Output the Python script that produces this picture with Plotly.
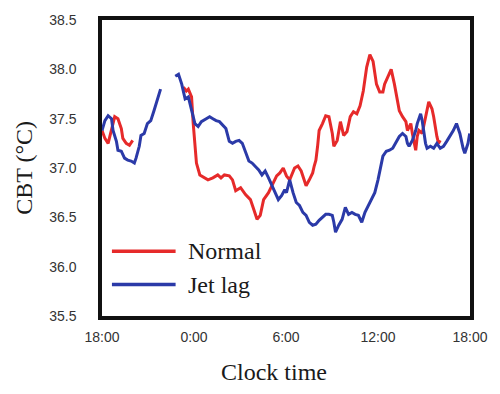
import plotly.graph_objects as go

# Hours elapsed since 18:00 on the first evening; None breaks the trace where recording stops.
normal_hours = [
    0.00, 0.19, 0.40, 0.62, 0.83, 1.04, 1.26, 1.36, 1.58, 1.79, 2.00, None,
    5.31, 5.50, 5.63, 5.84, 5.95, 6.06, 6.16, 6.38, 6.48, 6.91, 7.23, 7.55,
    7.76, 7.98, 8.30, 8.51, 8.72, 9.04, 9.36, 9.68, 9.90, 10.11, 10.32, 10.54,
    10.86, 11.07, 11.39, 11.60, 11.82, 12.03, 12.24, 12.56, 12.78, 12.99, 13.20,
    13.31, 13.52, 13.74, 13.84, 13.95, 14.06, 14.16, 14.38, 14.59, 14.80, 15.02,
    15.12, 15.34, 15.55, 15.76, 15.98, 16.19, 16.40, 16.62, 16.83, 17.04, 17.26,
    17.47, 17.68, 17.90, 18.11, 18.32, 18.43, 18.64, 18.86, 19.07, 19.28, 19.39,
    19.60, 19.82, 19.92, 20.14, 20.24, 20.46, 20.56, 20.67, 20.88, 21.10, 21.31,
    21.52, 21.63, 21.84, 21.95, 22.06,
]
normal_cbt = [
    37.38, 37.30, 37.25, 37.38, 37.52, 37.50, 37.40, 37.30, 37.25, 37.23, 37.28, None,
    37.82, 37.78, 37.80, 37.72, 37.45, 37.22, 37.05, 36.93, 36.92, 36.88, 36.90, 36.93,
    36.90, 36.93, 36.92, 36.88, 36.77, 36.80, 36.73, 36.68, 36.58, 36.48, 36.52, 36.68,
    36.75, 36.82, 36.92, 36.95, 37.00, 36.92, 36.88, 37.00, 37.02, 36.97, 36.87,
    36.82, 36.88, 36.95, 37.02, 37.08, 37.22, 37.38, 37.45, 37.53, 37.52, 37.35,
    37.22, 37.28, 37.47, 37.33, 37.37, 37.52, 37.57, 37.55, 37.63, 37.78, 38.02,
    38.15, 38.08, 37.85, 37.77, 37.77, 37.85, 37.92, 38.00, 37.85, 37.68, 37.58,
    37.52, 37.47, 37.38, 37.45, 37.35, 37.18, 37.32, 37.38, 37.35, 37.52, 37.67,
    37.60, 37.52, 37.32, 37.25, 37.28,
]

jetlag_hours = [
    0.00, 0.19, 0.40, 0.62, 0.72, 0.94, 1.04, 1.26, 1.47, 1.68, 1.90, 2.11, 2.22,
    2.43, 2.54, 2.75, 2.96, 3.18, 3.39, 3.60, 3.82, None,
    4.78, 4.99, 5.20, 5.42, 5.63, 5.84, 6.06, 6.27, 6.48, 6.80, 7.02, 7.23, 7.44,
    7.66, 7.87, 8.08, 8.30, 8.51, 8.72, 8.94, 9.15, 9.36, 9.58, 9.79, 10.00, 10.22,
    10.43, 10.64, 10.86, 11.07, 11.28, 11.50, 11.71, 11.92, 12.03, 12.24, 12.46,
    12.67, 12.88, 13.10, 13.31, 13.52, 13.74, 13.95, 14.16, 14.38, 14.59, 14.80,
    15.02, 15.12, 15.23, 15.44, 15.66, 15.87, 16.08, 16.30, 16.51, 16.72, 16.94,
    17.15, 17.36, 17.58, 17.79, 18.00, 18.22, 18.32, 18.54, 18.75, 18.96, 19.18,
    19.39, 19.60, 19.82, 19.92, 20.03, 20.24, 20.46, 20.56, 20.78, 20.88, 20.99,
    21.10, 21.20, 21.42, 21.63, 21.84, 22.06, 22.27, 22.48, 22.70, 22.91, 23.12,
    23.34, 23.55, 23.66, 23.87, 23.98,
]
jetlag_cbt = [
    37.38, 37.48, 37.53, 37.50, 37.38, 37.27, 37.18, 37.17, 37.10, 37.08, 37.07, 37.05, 37.10,
    37.22, 37.33, 37.35, 37.45, 37.48, 37.58, 37.68, 37.80, None,
    37.93, 37.95, 37.85, 37.70, 37.72, 37.58, 37.45, 37.42, 37.47, 37.50, 37.52, 37.50, 37.48,
    37.47, 37.43, 37.40, 37.27, 37.25, 37.27, 37.28, 37.25, 37.17, 37.07, 37.05, 37.02, 36.98,
    36.93, 36.97, 36.90, 36.83, 36.77, 36.68, 36.72, 36.78, 36.75, 36.88, 36.75,
    36.65, 36.62, 36.55, 36.52, 36.45, 36.42, 36.43, 36.47, 36.50, 36.53, 36.53,
    36.52, 36.45, 36.35, 36.42, 36.48, 36.60, 36.53, 36.55, 36.53, 36.52, 36.45,
    36.55, 36.62, 36.68, 36.75, 36.88, 37.05, 37.12, 37.17, 37.18, 37.20, 37.27,
    37.32, 37.35, 37.32, 37.25, 37.22, 37.28, 37.38, 37.45, 37.55, 37.48, 37.35,
    37.25, 37.20, 37.22, 37.20, 37.25, 37.20, 37.22, 37.27, 37.32, 37.38, 37.45,
    37.35, 37.20, 37.15, 37.25, 37.35,
]

x_tick_hours = [0, 6, 12, 18, 24]
x_tick_labels = ["18:00", "0:00", "6:00", "12:00", "18:00"]
y_ticks = [35.5, 36.0, 36.5, 37.0, 37.5, 38.0, 38.5]

RED = "#E62A2A"
BLUE = "#2B3AA8"
SERIF = "Liberation Serif, Times New Roman, serif"
SANS = "Liberation Sans, Arial, sans-serif"
TICK_FONT = dict(family=SANS, size=14, color="#333333")

fig = go.Figure()
fig.add_trace(go.Scatter(x=normal_hours, y=normal_cbt, mode="lines", name="Normal",
                         line=dict(color=RED, width=3), connectgaps=False))
fig.add_trace(go.Scatter(x=jetlag_hours, y=jetlag_cbt, mode="lines", name="Jet lag",
                         line=dict(color=BLUE, width=3), connectgaps=False))

# Hand-built legend in the lower-left corner of the plotting area
legend_rows = [("Normal", RED, 0.219), ("Jet lag", BLUE, 0.106)]
for label, color, ypos in legend_rows:
    fig.add_shape(type="line", xref="paper", yref="paper",
                  x0=0.027, x1=0.2, y0=ypos, y1=ypos,
                  line=dict(color=color, width=3.5))
    fig.add_annotation(text=label, xref="paper", yref="paper", x=0.229, y=ypos,
                       xanchor="left", yanchor="middle", showarrow=False,
                       font=dict(family=SERIF, size=24, color="#1a1a1a"))

# Axis titles
fig.add_annotation(text="CBT (°C)", xref="paper", yref="paper", x=-0.211, y=0.502,
                   textangle=-90, xanchor="center", yanchor="middle", showarrow=False,
                   font=dict(family=SERIF, size=24, color="#1a1a1a"))
fig.add_annotation(text="Clock time", xref="paper", yref="paper", x=0.468, y=-0.19,
                   xanchor="center", yanchor="middle", showarrow=False,
                   font=dict(family=SERIF, size=24, color="#1a1a1a"))

fig.update_layout(
    width=500, height=394,
    margin=dict(l=102, r=23, t=15, b=78),
    paper_bgcolor="white", plot_bgcolor="white",
    showlegend=False,
    xaxis=dict(range=[0, 24], tickvals=x_tick_hours, ticktext=x_tick_labels,
               showgrid=False, zeroline=False, ticks="",
               showline=True, mirror=True, linecolor="#111", linewidth=3.5,
               ticklabelstandoff=5, tickfont=TICK_FONT),
    yaxis=dict(range=[35.5, 38.5], tickvals=y_ticks, tickformat=".1f",
               showgrid=False, zeroline=False, ticks="",
               showline=True, mirror=True, linecolor="#111", linewidth=3.5,
               ticklabelstandoff=19, tickfont=TICK_FONT),
)

fig.write_html("out.html")
